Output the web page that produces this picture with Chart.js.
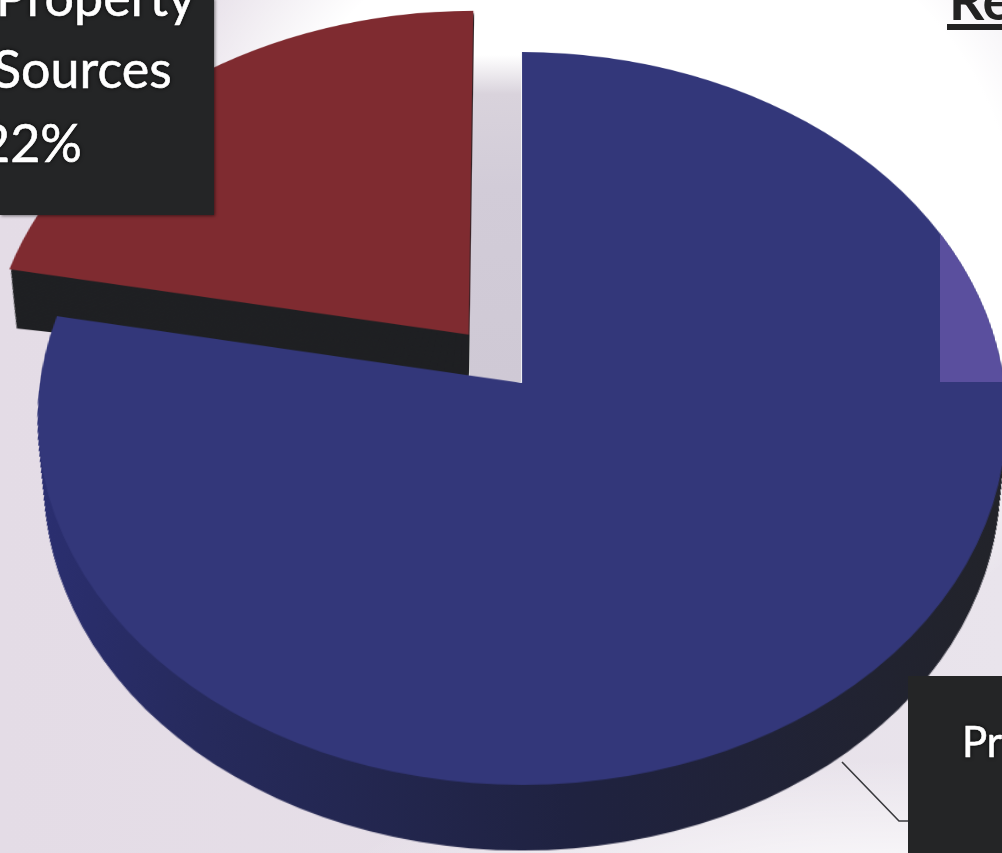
<!DOCTYPE html>
<html>
<head>
<meta charset="utf-8">
<title>Revenue sources</title>
<script src="https://cdn.jsdelivr.net/npm/chart.js@4"></script>
<style>
  html, body { margin: 0; padding: 0; }
  body { width: 1002px; height: 853px; overflow: hidden; position: relative; background: #fff; font-family: Lato, "Open Sans", sans-serif; }
  .backdrop { position: absolute; inset: 0;
    background:
      radial-gradient(ellipse 560px 120px at 900px 880px, rgba(255,255,255,.8) 0, rgba(255,255,255,0) 100%),
      radial-gradient(ellipse 520px 470px at 640px 230px, #ffffff 72%, rgba(255,255,255,0) 100%),
      linear-gradient(90deg, #e4dce6 0, #e6dfe8 50%, #e9e4ec 100%); }
  .gap { position: absolute; left: 470px; top: 55px; width: 51px; height: 327px;
    background: linear-gradient(180deg, #ffffff 0, #d9d3dc 12%, #d2ccd8 40%, #cfc9d5 100%); }
  .pie { position: absolute; left: -78px; top: -217px; width: 1200px; height: 1200px;
         transform-origin: 600px 600px; }
  .clip { position: absolute; inset: 0; clip-path: polygon(940px 0, 1002px 0, 1002px 382px, 940px 382px); }
  .box { position: absolute; background: #242526; color: #fff; overflow: hidden; }
  .box1 { left: 0; top: -2px; width: 214px; height: 217px; box-shadow: 1px 1px 3px rgba(0,0,0,.5); }
  .box2 { left: 908px; top: 676px; width: 94px; height: 177px; }
  .line { position: absolute; white-space: nowrap; text-shadow: 0 0 4px #000; font-size: 52px; line-height: 1; -webkit-text-stroke: 0.6px #fff; }
  .title { position: absolute; left: 949px; top: -28px; font-weight: 700; font-size: 55px; line-height: 1; color: #222; white-space: nowrap; }
  .rule { position: absolute; left: 947px; top: 24px; width: 55px; height: 6px; background: #222; }
  svg { position: absolute; left: 0; top: 0; }
</style>
</head>
<body>
<div class="backdrop"></div>
<div class="gap"></div>
<div class="pie" id="mainWrap"><canvas id="main" width="1200" height="1200"></canvas></div>
<div class="clip"><div class="pie" id="tintWrap"><canvas id="tint" width="1200" height="1200"></canvas></div></div>
<svg width="1002" height="853"><path d="M842 762 L899 821 L908 821" fill="none" stroke="#3a3a3e" stroke-width="1.6"/></svg>
<div class="box box1">
  <div class="line" style="left:-4px;top:-28px">Property</div>
  <div class="line" style="left:-7px;top:44px">Sources</div>
  <div class="line" style="left:-20px;top:118px">22%</div>
</div>
<div class="box box2"><div class="line" style="left:54px;top:44px;font-size:42px">Pr</div></div>
<div class="title">Re</div>
<div class="rule"></div>

<script>
// Revenue split shown by the pie
const categories = ['Property Taxes', 'Other Sources'];
const shares = [78, 22];
const sliceColors = ['#33377a', '#7f2b30'];
// Chart.js moves an arc by a quarter of its offset value
const explodeOffsets = [0, 280];
// Side wall of each slice: how far it drops, how much it narrows, how far its left end swings down
const sideDepths = [70, 48];
const sideNarrowing = [12, 15];
const sideSwing = [0, 0.045];

// Lighter band inside the large slice
const tintShares = [16, 9, 53, 22];
const tintColors = ['rgba(0,0,0,0)', '#5a4f9e', 'rgba(0,0,0,0)', 'rgba(0,0,0,0)'];
const tintOffsets = [0, 0, 0, 280];

// Tilts the flat disc back, with the near edge larger than the far edge
const tilt = 'matrix3d(1.205,0,0,0, 0,0.9075,0,-0.000242, 0,0,1,0, 0,0,0,1)';
document.getElementById('mainWrap').style.transform = tilt;
document.getElementById('tintWrap').style.transform = tilt;

// Extrudes each slice downward to give the pie its thickness
const extrude = {
  id: 'extrude',
  beforeDatasetsDraw(chart) {
    const ctx = chart.ctx;
    const arcs = chart.getDatasetMeta(0).data;
    [1, 0].forEach(i => {
      const a = arcs[i].getProps(['x', 'y', 'startAngle', 'endAngle', 'outerRadius'], true);
      const mid = (a.startAngle + a.endAngle) / 2;
      const shift = explodeOffsets[i] / 4;
      const cx = a.x + Math.cos(mid) * shift;
      const cy = a.y + Math.sin(mid) * shift;
      let fill = '#1f2023';
      if (i === 0) {
        const g = ctx.createLinearGradient(a.x - a.outerRadius, 0, a.x + a.outerRadius, 0);
        g.addColorStop(0, '#2b2f72');
        g.addColorStop(0.2, '#262a5c');
        g.addColorStop(0.55, '#1f2240');
        g.addColorStop(1, '#222328');
        fill = g;
      }
      ctx.save();
      ctx.fillStyle = fill;
      for (let d = sideDepths[i]; d > 0; d -= 1) {
        const t = d / sideDepths[i];
        ctx.beginPath();
        ctx.moveTo(cx, cy + d);
        ctx.arc(cx, cy + d, a.outerRadius - sideNarrowing[i] * t,
                a.startAngle - sideSwing[i] * t, a.endAngle);
        ctx.closePath();
        ctx.fill();
      }
      ctx.restore();
    });
  }
};

function pieOptions() {
  return {
    responsive: false,
    animation: false,
    layout: { padding: 60 },
    plugins: { legend: { display: false }, tooltip: { enabled: false } }
  };
}

new Chart(document.getElementById('main'), {
  type: 'pie',
  data: {
    labels: categories,
    datasets: [{ data: shares, backgroundColor: sliceColors, borderWidth: 0, offset: explodeOffsets }]
  },
  options: pieOptions(),
  plugins: [extrude]
});

new Chart(document.getElementById('tint'), {
  type: 'pie',
  data: {
    labels: ['a', 'b', 'c', 'd'],
    datasets: [{ data: tintShares, backgroundColor: tintColors, borderWidth: 0, offset: tintOffsets }]
  },
  options: pieOptions()
});
</script>
</body>
</html>
